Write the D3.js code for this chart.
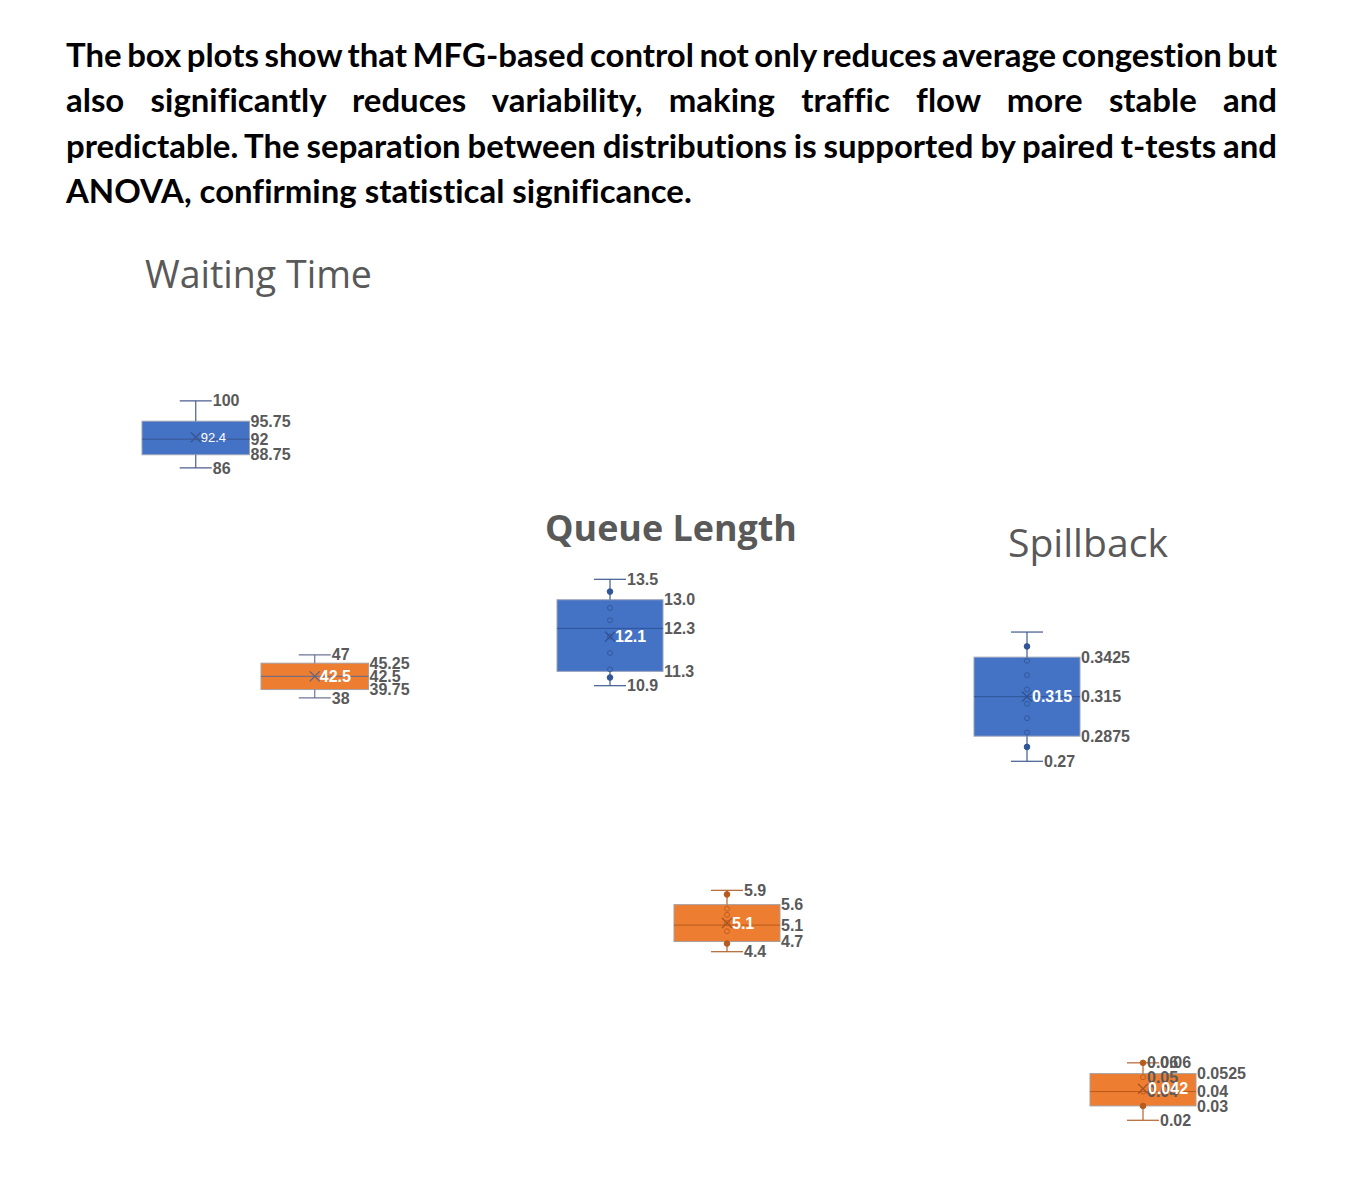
<!DOCTYPE html>
<html>
<head>
<meta charset="utf-8">
<script src="https://cdn.jsdelivr.net/npm/d3@7"></script>
<style>
  html, body { margin: 0; padding: 0; background: #ffffff; }
  svg { display: block; }
  text { font-variant-ligatures: none; }
</style>
</head>
<body>
<script>
// ---------------- DATA ----------------
const paragraphLines = [
  "The box plots show that MFG-based control not only reduces average congestion but",
  "also significantly reduces variability, making traffic flow more stable and",
  "predictable. The separation between distributions is supported by paired t-tests and",
  "ANOVA, confirming statistical significance."
];
const categories = ["Waiting Time", "Queue Length", "Spillback"];
const seriesNames = ["Baseline control", "MFG-based control"];

// Waiting Time
const waitingMin    = [86, 38];
const waitingQ1     = [88.75, 39.75];
const waitingMedian = [92, 42.5];
const waitingQ3     = [95.75, 45.25];
const waitingMax    = [100, 47];
const waitingMean   = [92.4, 42.5];
const waitingPoints = [[], []];
const waitingPointLabels = [[], []];

// Queue Length
const queueMin    = [10.9, 4.4];
const queueQ1     = [11.25, 4.65];
const queueMedian = [12.3, 5.05];
const queueQ3     = [13.0, 5.55];
const queueMax    = [13.5, 5.9];
const queueMean   = [12.1, 5.1];
const queuePoints = [
  [13.2, 12.8, 12.5, 12.1, 11.7, 11.3, 11.1],
  [5.8, 5.45, 5.3, 5.1, 4.9, 4.6]
];
const queuePointLabels = [[], []];

// Spillback
const spillMin    = [0.27, 0.02];
const spillQ1     = [0.2875, 0.03];
const spillMedian = [0.315, 0.04];
const spillQ3     = [0.3425, 0.0525];
const spillMax    = [0.36, 0.06];
const spillMean   = [0.315, 0.042];
const spillPoints = [
  [0.35, 0.34, 0.33, 0.32, 0.31, 0.30, 0.29, 0.28],
  [0.06, 0.05, 0.04, 0.03]
];
const spillPointLabels = [[], [0.06, 0.05, 0.04]];
const spillShowMaxLabel = [false, true];

// ---------------- LAYOUT / STYLE ----------------
const W = 1364, H = 1182;
const labelColor = "#595959";
const fills = ["#4472C4", "#ED7D31"];

const svg = d3.select("body").append("svg").attr("width", W).attr("height", H);

// Paragraph (justified)
(function drawParagraph() {
  const left = 66, right = 1277;
  const baselines = [67, 112, 158, 203];
  const fam = "Lato, 'Open Sans', sans-serif";
  const probe = svg.append("text").attr("font-family", fam).attr("font-weight", 700)
    .attr("font-size", 100).text(paragraphLines[3]);
  const L = probe.node().getComputedTextLength();
  probe.remove();
  const fs = 100 * (692 - left) / L;
  paragraphLines.forEach((line, i) => {
    const t = svg.append("text").attr("x", left).attr("y", baselines[i])
      .attr("font-family", fam).attr("font-weight", 700).attr("font-size", fs)
      .attr("fill", "#000").text(line);
    if (i < 3) {
      const len = t.node().getComputedTextLength();
      const gaps = line.split(" ").length - 1;
      const ws = (right - left - len) / gaps;
      t.attr("word-spacing", ws);
      const len2 = t.node().getComputedTextLength();
      if (Math.abs(len2 - (right - left)) > 2) {
        t.attr("textLength", right - left).attr("lengthAdjust", "spacing");
      }
    }
  });
})();

function fitText(sel, target) {
  const fs0 = 100;
  sel.attr("font-size", fs0);
  const L = sel.node().getComputedTextLength();
  sel.attr("font-size", fs0 * target / L);
}

const oneDecimal = d => (Math.round(d * 10 + 1e-9) / 10).toFixed(1);

const panels = [
  {
    title: categories[0], titleX: 145, titleY: 288, titleW: 227, titleWeight: 400,
    yDomain: [0, 120], yRange: [880, 305],
    x0: 142, step: 119, bw: 107.5,
    min: waitingMin, q1: waitingQ1, med: waitingMedian, q3: waitingQ3, max: waitingMax, mean: waitingMean,
    points: waitingPoints, pointLabels: waitingPointLabels, showMax: [true, true],
    fmt: d => String(d),
    lineColors: ["#4A5E8E", "#6C7597"], medColors: ["#3A5590", "#5F6C93"],
    meanColors: ["#3A5590", "#55648F"],
    meanFont: [{ size: 13, weight: 400 }, { size: 16, weight: 700 }]
  },
  {
    title: categories[1], titleX: 545, titleY: 541, titleW: 252, titleWeight: 700,
    yDomain: [4.4, 13.5], yRange: [951.7, 579.3],
    x0: 557, step: 117, bw: 106,
    min: queueMin, q1: queueQ1, med: queueMedian, q3: queueQ3, max: queueMax, mean: queueMean,
    points: queuePoints, pointLabels: queuePointLabels, showMax: [true, true],
    fmt: oneDecimal,
    lineColors: ["#3F5A8F", "#B3622E"], medColors: ["#2F5597", "#B85A1E"],
    meanColors: ["#2F4F8F", "#A85420"],
    meanFont: [{ size: 16, weight: 700 }, { size: 16, weight: 700 }]
  },
  {
    title: categories[2], titleX: 1008, titleY: 557, titleW: 160, titleWeight: 400,
    yDomain: [0, 0.4], yRange: [1149, 574.6],
    x0: 974, step: 116, bw: 106,
    min: spillMin, q1: spillQ1, med: spillMedian, q3: spillQ3, max: spillMax, mean: spillMean,
    points: spillPoints, pointLabels: spillPointLabels, showMax: spillShowMaxLabel,
    fmt: d => String(d),
    lineColors: ["#3F5A8F", "#B3622E"], medColors: ["#2F5597", "#B85A1E"],
    meanColors: ["#2F4F8F", "#A85420"],
    meanFont: [{ size: 16, weight: 700 }, { size: 16, weight: 700 }]
  }
];

const labelFont = "'Liberation Sans', Arial, sans-serif";
const capHalf = 16;

panels.forEach(p => {
  const t = svg.append("text").attr("x", p.titleX).attr("y", p.titleY)
    .attr("font-family", "'Open Sans', 'Noto Sans', sans-serif")
    .attr("font-weight", p.titleWeight).attr("fill", labelColor).text(p.title);
  fitText(t, p.titleW);

  const y = d3.scaleLinear().domain(p.yDomain).range(p.yRange);
  const x = d3.scaleBand().domain(seriesNames)
    .range([p.x0, p.x0 + p.step + p.bw])
    .paddingInner((p.step - p.bw) / p.step).paddingOuter(0);

  const g = svg.append("g");
  seriesNames.forEach((s, i) => {
    const left = x(s), bw = x.bandwidth(), cx = left + bw / 2, right = left + bw;
    const lc = p.lineColors[i];
    // box
    g.append("rect").attr("x", left).attr("y", y(p.q3[i]))
      .attr("width", bw).attr("height", y(p.q1[i]) - y(p.q3[i]))
      .attr("fill", fills[i]).attr("stroke", i === 0 ? "#9AA3B8" : "#A8A0A0").attr("stroke-width", 1);
    // median
    g.append("line").attr("x1", left).attr("x2", right)
      .attr("y1", y(p.med[i])).attr("y2", y(p.med[i]))
      .attr("stroke", p.medColors[i]).attr("stroke-width", 1);
    // whiskers
    g.append("line").attr("x1", cx).attr("x2", cx).attr("y1", y(p.max[i])).attr("y2", y(p.q3[i]))
      .attr("stroke", lc).attr("stroke-width", 1.2);
    g.append("line").attr("x1", cx).attr("x2", cx).attr("y1", y(p.q1[i])).attr("y2", y(p.min[i]))
      .attr("stroke", lc).attr("stroke-width", 1.2);
    [p.max[i], p.min[i]].forEach(v => {
      g.append("line").attr("x1", cx - capHalf).attr("x2", cx + capHalf)
        .attr("y1", y(v)).attr("y2", y(v)).attr("stroke", lc).attr("stroke-width", 1.2);
    });
    // points
    const pts = p.points[i];
    pts.forEach((v, k) => {
      const solid = (k === 0 || k === pts.length - 1);
      g.append("circle").attr("cx", cx).attr("cy", y(v)).attr("r", solid ? 2.8 : 2.5)
        .attr("fill", solid ? p.medColors[i] : "none")
        .attr("stroke", p.medColors[i]).attr("stroke-width", 1)
        .attr("opacity", solid ? 1 : 0.85);
    });
    // mean X
    const my = y(p.mean[i]), ms = 5;
    g.append("path")
      .attr("d", `M${cx - ms},${my - ms}L${cx + ms},${my + ms}M${cx - ms},${my + ms}L${cx + ms},${my - ms}`)
      .attr("stroke", p.meanColors[i]).attr("stroke-width", 1.3).attr("fill", "none");

    const lab = (tx, vy, txt, opts = {}) => g.append("text")
      .attr("x", tx).attr("y", vy).attr("dy", "0.35em")
      .attr("font-family", labelFont).attr("font-weight", opts.weight || 700)
      .attr("font-size", opts.size || 16).attr("fill", opts.fill || labelColor).text(txt);

    p.pointLabels[i].forEach(v => lab(cx + 4, y(v), p.fmt(v)));
    if (p.showMax[i]) lab(cx + capHalf + 1, y(p.max[i]), p.fmt(p.max[i]));
    lab(cx + capHalf + 1, y(p.min[i]), p.fmt(p.min[i]));
    lab(right + 1, y(p.q3[i]), p.fmt(p.q3[i]));
    lab(right + 1, y(p.med[i]), p.fmt(p.med[i]));
    lab(right + 1, y(p.q1[i]), p.fmt(p.q1[i]));
    const mf = p.meanFont[i];
    lab(cx + 5, my, p.fmt(p.mean[i]), { fill: "#ffffff", size: mf.size, weight: mf.weight });
  });
});
</script>
</body>
</html>
